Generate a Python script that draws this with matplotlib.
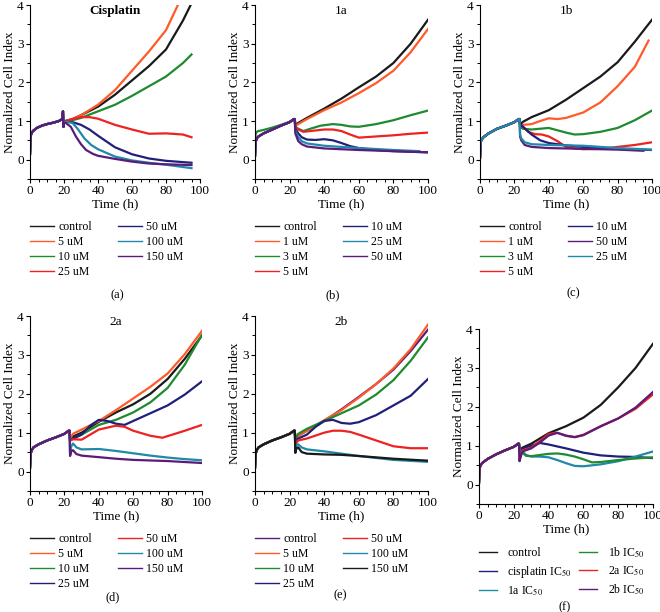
import matplotlib
matplotlib.use('Agg')
import matplotlib.pyplot as plt
from matplotlib.ticker import MultipleLocator

plt.rcParams['font.family'] = ['Liberation Serif', 'DejaVu Serif']
plt.rcParams['mathtext.fontset'] = 'stix'

W, H = 660, 612

BLACK  = '#1a1a1a'
ORANGE = '#ff5a28'
GREEN  = '#1f8a30'
RED    = '#ee2222'
NAVY   = '#20207a'
TEAL   = '#2088a8'
PURPLE = '#5a1c7a'

# ---- panel (a): cisplatin ----
pre_t_a = [0, 0.3, 1, 2, 4, 7, 10, 14, 17, 19, 19.4, 19.7, 20.0]
pre_v_a = [0.15, 0.6, 0.7, 0.75, 0.82, 0.88, 0.92, 0.96, 1.0, 1.05, 1.25, 0.85, 0.95]
a_ctrl_t  = [21, 25, 30, 40, 50, 60, 70, 80, 90, 94.5]
a_ctrl_v  = [1.0, 1.05, 1.15, 1.37, 1.68, 2.05, 2.42, 2.85, 3.6, 4.0]
a_5_t     = [21, 25, 30, 40, 50, 60, 70, 80, 87]
a_5_v     = [1.0, 1.05, 1.15, 1.42, 1.8, 2.3, 2.8, 3.35, 4.0]
a_10_t    = [21, 25, 30, 40, 50, 60, 70, 80, 90, 95]
a_10_v    = [1.0, 1.02, 1.08, 1.25, 1.42, 1.65, 1.9, 2.15, 2.5, 2.72]
a_25_t    = [21, 25, 30, 35, 40, 50, 60, 70, 80, 90, 95]
a_25_v    = [1.0, 1.05, 1.1, 1.1, 1.06, 0.9, 0.78, 0.67, 0.68, 0.65, 0.58]
a_50_t    = [21, 25, 30, 35, 40, 50, 60, 70, 80, 95]
a_50_v    = [0.98, 0.97, 0.9, 0.78, 0.62, 0.32, 0.14, 0.03, -0.03, -0.08]
a_100_t   = [21, 25, 28, 32, 36, 40, 50, 60, 70, 80, 95]
a_100_v   = [0.98, 0.95, 0.8, 0.55, 0.38, 0.27, 0.08, -0.02, -0.08, -0.13, -0.22]
a_150_t   = [21, 24, 27, 30, 33, 37, 40, 50, 60, 70, 80, 95]
a_150_v   = [0.95, 0.85, 0.6, 0.4, 0.25, 0.15, 0.1, 0.02, -0.05, -0.1, -0.12, -0.14]

# ---- panel (b): 1a ----
pre_t_b = [0, 0.3, 1, 2, 5, 10, 15, 20, 22.5, 23]
pre_v_b = [0.1, 0.45, 0.55, 0.6, 0.68, 0.78, 0.88, 0.97, 1.05, 1.05]
pre_v_b_3 = [0.1, 0.65, 0.72, 0.74, 0.77, 0.83, 0.9, 0.98, 1.05, 1.05]
b_ctrl_t = [23.3, 25, 30, 40, 50, 60, 70, 80, 90, 100]
b_ctrl_v = [0.9, 0.95, 1.08, 1.32, 1.58, 1.87, 2.15, 2.5, 3.0, 3.62]
b_1_t    = [23.3, 25, 30, 40, 50, 60, 70, 80, 90, 100]
b_1_v    = [0.88, 0.92, 1.05, 1.28, 1.48, 1.72, 1.98, 2.3, 2.78, 3.38]
b_3_t    = [23.3, 25, 28, 32, 38, 45, 50, 55, 60, 70, 80, 90, 100]
b_3_v    = [0.85, 0.8, 0.74, 0.8, 0.88, 0.92, 0.9, 0.86, 0.85, 0.92, 1.02, 1.15, 1.27]
b_5_t    = [23.3, 25, 28, 32, 40, 45, 50, 55, 60, 70, 80, 90, 100]
b_5_v    = [0.85, 0.78, 0.72, 0.74, 0.78, 0.78, 0.74, 0.65, 0.57, 0.6, 0.63, 0.67, 0.7]
b_10_t   = [23.3, 25, 27, 30, 35, 40, 45, 50, 55, 60, 70, 80, 100]
b_10_v   = [0.8, 0.68, 0.58, 0.52, 0.51, 0.53, 0.5, 0.43, 0.35, 0.3, 0.25, 0.22, 0.19]
b_25_t   = [23.3, 25, 27, 30, 40, 50, 60, 80, 95]
b_25_v   = [0.75, 0.58, 0.48, 0.42, 0.36, 0.33, 0.3, 0.25, 0.22]
b_50_t   = [23.3, 25, 27, 30, 40, 50, 60, 80, 100]
b_50_v   = [0.68, 0.48, 0.4, 0.34, 0.29, 0.27, 0.25, 0.22, 0.19]

# ---- panel (c): 1b ----
pre_t_c = [0, 0.3, 1, 2, 5, 10, 15, 20, 22.5, 23]
pre_v_c = [0.05, 0.45, 0.52, 0.58, 0.68, 0.8, 0.88, 0.97, 1.05, 1.05]
c_ctrl_t = [23.3, 25, 30, 40, 50, 60, 70, 80, 90, 100]
c_ctrl_v = [0.9, 0.98, 1.1, 1.28, 1.55, 1.85, 2.15, 2.52, 3.05, 3.62]
c_1_t    = [23.3, 25, 30, 35, 40, 45, 50, 60, 70, 80, 90, 98]
c_1_v    = [0.88, 0.9, 0.92, 1.0, 1.07, 1.05, 1.08, 1.22, 1.48, 1.9, 2.4, 3.08]
c_3_t    = [23.3, 25, 30, 35, 40, 45, 50, 55, 60, 70, 80, 90, 100]
c_3_v    = [0.85, 0.8, 0.78, 0.8, 0.82, 0.76, 0.7, 0.65, 0.66, 0.72, 0.82, 1.02, 1.27]
c_5_t    = [23.3, 25, 28, 32, 36, 40, 45, 50, 55, 60, 70, 80, 90, 100]
c_5_v    = [0.9, 0.85, 0.72, 0.66, 0.65, 0.6, 0.48, 0.33, 0.29, 0.27, 0.28, 0.33, 0.38, 0.45]
c_10_t   = [23.3, 25, 30, 35, 40, 50, 60, 80, 100]
c_10_v   = [0.92, 0.85, 0.65, 0.5, 0.43, 0.37, 0.33, 0.28, 0.25]
c_50_t   = [23.3, 24, 26, 30, 40, 60, 80, 95]
c_50_v   = [0.6, 0.5, 0.38, 0.33, 0.3, 0.28, 0.26, 0.23]
c_25_t   = [23.3, 24, 26, 30, 40, 60, 80, 100]
c_25_v   = [0.65, 0.55, 0.45, 0.4, 0.38, 0.36, 0.3, 0.26]

# ---- panel (d): 2a ----
pre_t_d = [0, 0.3, 1, 2, 5, 10, 15, 20, 22.5, 23]
pre_v_d = [0.1, 0.45, 0.55, 0.62, 0.7, 0.8, 0.88, 0.97, 1.05, 1.05]
d_ctrl_t = [23.3, 25, 30, 40, 50, 60, 70, 80, 90, 100]
d_ctrl_v = [0.82, 0.9, 1.0, 1.28, 1.52, 1.73, 2.0, 2.38, 2.9, 3.5]
d_5_t    = [23.3, 25, 30, 40, 50, 60, 70, 80, 90, 100]
d_5_v    = [0.85, 0.97, 1.08, 1.3, 1.58, 1.88, 2.18, 2.52, 3.02, 3.62]
d_10_t   = [23.3, 25, 30, 40, 50, 60, 70, 80, 90, 100]
d_10_v   = [0.8, 0.85, 0.95, 1.2, 1.33, 1.52, 1.78, 2.15, 2.75, 3.52]
d_25_t   = [23.3, 25, 30, 35, 40, 45, 50, 55, 60, 70, 80, 90, 100]
d_25_v   = [0.8, 0.85, 0.95, 1.18, 1.33, 1.3, 1.23, 1.2, 1.3, 1.5, 1.7, 1.98, 2.32]
d_50_t   = [23.3, 25, 30, 35, 40, 50, 55, 60, 70, 77, 85, 90, 100]
d_50_v   = [0.8, 0.83, 0.82, 0.95, 1.08, 1.18, 1.15, 1.05, 0.92, 0.87, 0.98, 1.05, 1.2]
d_100_t  = [23.3, 24, 25, 27, 30, 40, 50, 60, 70, 80, 90, 100]
d_100_v  = [0.45, 0.65, 0.72, 0.62, 0.57, 0.58, 0.53, 0.47, 0.41, 0.36, 0.32, 0.29]
d_150_t  = [23.3, 24, 25, 27, 30, 40, 50, 60, 80, 100]
d_150_v  = [0.4, 0.52, 0.55, 0.45, 0.41, 0.37, 0.33, 0.3, 0.27, 0.22]

# ---- panel (e): 2b ----
pre_t_e = [0, 0.3, 1, 2, 5, 10, 15, 20, 22.5, 23]
pre_v_e = [0.1, 0.45, 0.55, 0.62, 0.7, 0.8, 0.88, 0.97, 1.05, 1.05]
e_ctrl_t = [23.3, 25, 30, 40, 50, 60, 70, 80, 90, 100]
e_ctrl_v = [0.85, 0.92, 1.05, 1.3, 1.6, 1.92, 2.25, 2.62, 3.1, 3.65]
e_5_t    = [23.3, 25, 30, 40, 50, 60, 70, 80, 90, 100]
e_5_v    = [0.85, 0.92, 1.05, 1.32, 1.58, 1.9, 2.25, 2.65, 3.15, 3.78]
e_10_t   = [23.3, 25, 30, 40, 50, 60, 70, 80, 90, 100]
e_10_v   = [0.85, 0.97, 1.1, 1.3, 1.5, 1.7, 1.98, 2.35, 2.85, 3.45]
e_25_t   = [23.3, 25, 30, 35, 40, 45, 50, 55, 60, 70, 80, 90, 100]
e_25_v   = [0.8, 0.85, 0.95, 1.15, 1.3, 1.33, 1.25, 1.23, 1.27, 1.45, 1.7, 1.95, 2.38]
e_50_t   = [23.3, 25, 30, 40, 45, 50, 55, 60, 70, 80, 90, 100]
e_50_v   = [0.7, 0.8, 0.85, 1.0, 1.05, 1.05, 1.02, 0.95, 0.8, 0.65, 0.6, 0.6]
e_100_t  = [23.3, 24, 25, 27, 30, 40, 50, 60, 70, 80, 100]
e_100_v  = [0.55, 0.68, 0.7, 0.62, 0.57, 0.52, 0.46, 0.4, 0.35, 0.3, 0.25]
e_150_t  = [23.3, 24, 25, 27, 30, 40, 50, 60, 80, 100]
e_150_v  = [0.48, 0.6, 0.62, 0.5, 0.46, 0.44, 0.43, 0.4, 0.33, 0.28]

# ---- panel (f): IC50 comparison ----
pre_t_f = [0, 0.3, 1, 2, 5, 10, 15, 20, 22.5, 23]
pre_v_f = [0.05, 0.42, 0.5, 0.56, 0.66, 0.78, 0.88, 0.97, 1.05, 1.05]
f_ctrl_t = [23.3, 25, 30, 40, 50, 60, 70, 80, 90, 100]
f_ctrl_v = [0.88, 0.95, 1.05, 1.32, 1.5, 1.72, 2.05, 2.5, 3.0, 3.62]
f_cis_t  = [23.3, 25, 30, 35, 40, 50, 60, 70, 80, 90, 100]
f_cis_v  = [0.88, 0.92, 1.0, 1.07, 1.03, 0.93, 0.82, 0.75, 0.72, 0.71, 0.68]
f_1a_t   = [23.3, 25, 27, 30, 35, 40, 45, 50, 55, 60, 70, 80, 90, 100]
f_1a_v   = [0.88, 0.85, 0.76, 0.72, 0.72, 0.7, 0.63, 0.55, 0.48, 0.47, 0.52, 0.6, 0.72, 0.85]
f_1b_t   = [23.3, 25, 27, 30, 35, 40, 45, 50, 55, 60, 65, 70, 80, 90, 100]
f_1b_v   = [0.85, 0.82, 0.74, 0.73, 0.76, 0.79, 0.8, 0.77, 0.72, 0.65, 0.57, 0.58, 0.63, 0.67, 0.7]
f_2a_t   = [23.3, 24, 25, 30, 35, 40, 45, 50, 55, 60, 70, 80, 90, 100]
f_2a_v   = [0.62, 0.75, 0.88, 0.95, 1.12, 1.3, 1.33, 1.25, 1.22, 1.28, 1.5, 1.7, 1.95, 2.32]
f_2b_t   = [23.3, 24, 25, 30, 35, 40, 45, 50, 55, 60, 70, 80, 90, 100]
f_2b_v   = [0.6, 0.72, 0.85, 0.93, 1.08, 1.26, 1.33, 1.26, 1.22, 1.27, 1.5, 1.7, 1.98, 2.38]


def px_rect(x0, x1, ytop, ybot):
    return [x0 / W, 1 - ybot / H, (x1 - x0) / W, (ybot - ytop) / H]


def draw_panel(fig, rect, pre_t, pre_v, series, title, bold, leg_xy, leg_kw, caption_xy, caption):
    ax = fig.add_axes(rect)
    for label, color, t, v, pre in series:
        pv = pre_v if pre is None else pre
        ax.plot(list(pre_t) + list(t), list(pv) + list(v), color=color, lw=1.6, label=label)
    ax.set_xlim(0, 100)
    ax.set_ylim(-0.5, 4)
    ax.xaxis.set_major_locator(MultipleLocator(20))
    ax.xaxis.set_minor_locator(MultipleLocator(5))
    ax.yaxis.set_major_locator(MultipleLocator(1))
    ax.yaxis.set_minor_locator(MultipleLocator(0.5))
    ax.tick_params(which='major', direction='out', length=3, width=0.8, labelsize=9.5, pad=1.5)
    ax.tick_params(which='minor', direction='out', length=2, width=0.7)
    for s in ['top', 'right']:
        ax.spines[s].set_visible(False)
    for s in ['left', 'bottom']:
        ax.spines[s].set_linewidth(0.8)
    ax.set_xlabel('Time (h)', fontsize=9.5, labelpad=1)
    ax.set_ylabel('Normalized Cell Index', fontsize=9.5, labelpad=1)
    ax.text(50, 3.84, title, ha='center', va='center', fontsize=9.5,
            fontweight='bold' if bold else 'normal')
    kw = dict(handlelength=2.0, handletextpad=0.4, columnspacing=2.2, labelspacing=0.25)
    kw.update(leg_kw)
    leg = ax.legend(loc='upper left', bbox_to_anchor=(leg_xy[0] / W, 1 - leg_xy[1] / H),
                    bbox_transform=fig.transFigure, ncol=2, frameon=False, fontsize=8.5,
                    borderpad=0, borderaxespad=0, **kw)
    for ln in leg.get_lines():
        ln.set_linewidth(1.0)
    fig.text(caption_xy[0] / W, 1 - caption_xy[1] / H, caption, ha='center', va='center', fontsize=9)
    return ax


fig = plt.figure(figsize=(W / 100, H / 100), dpi=100)

draw_panel(fig, px_rect(30, 200, 5, 179), pre_t_a, pre_v_a, [
    ('control', BLACK, a_ctrl_t, a_ctrl_v, None),
    ('5 uM', ORANGE, a_5_t, a_5_v, None),
    ('10 uM', GREEN, a_10_t, a_10_v, None),
    ('25 uM', RED, a_25_t, a_25_v, None),
    ('50 uM', NAVY, a_50_t, a_50_v, None),
    ('100 uM', TEAL, a_100_t, a_100_v, None),
    ('150 uM', PURPLE, a_150_t, a_150_v, None),
], 'Cisplatin', True, (30, 221), {}, (117, 295), '(a)')

draw_panel(fig, px_rect(255, 428, 5, 179), pre_t_b, pre_v_b, [
    ('control', BLACK, b_ctrl_t, b_ctrl_v, None),
    ('1 uM', ORANGE, b_1_t, b_1_v, None),
    ('3 uM', GREEN, b_3_t, b_3_v, pre_v_b_3),
    ('5 uM', RED, b_5_t, b_5_v, None),
    ('10 uM', NAVY, b_10_t, b_10_v, None),
    ('25 uM', TEAL, b_25_t, b_25_v, None),
    ('50 uM', PURPLE, b_50_t, b_50_v, None),
], '1a', False, (255, 221), {}, (333, 295), '(b)')

draw_panel(fig, px_rect(480, 652, 5, 179), pre_t_c, pre_v_c, [
    ('control', BLACK, c_ctrl_t, c_ctrl_v, None),
    ('1 uM', ORANGE, c_1_t, c_1_v, None),
    ('3 uM', GREEN, c_3_t, c_3_v, None),
    ('5 uM', RED, c_5_t, c_5_v, None),
    ('10 uM', NAVY, c_10_t, c_10_v, None),
    ('50 uM', PURPLE, c_50_t, c_50_v, None),
    ('25 uM', TEAL, c_25_t, c_25_v, None),
], '1b', False, (480, 221), {}, (573, 293), '(c)')

draw_panel(fig, px_rect(30, 202, 316, 491), pre_t_d, pre_v_d, [
    ('control', BLACK, d_ctrl_t, d_ctrl_v, None),
    ('5 uM', ORANGE, d_5_t, d_5_v, None),
    ('10 uM', GREEN, d_10_t, d_10_v, None),
    ('25 uM', NAVY, d_25_t, d_25_v, None),
    ('50 uM', RED, d_50_t, d_50_v, None),
    ('100 uM', TEAL, d_100_t, d_100_v, None),
    ('150 uM', PURPLE, d_150_t, d_150_v, None),
], '2a', False, (30, 533), {}, (113, 597), '(d)')

draw_panel(fig, px_rect(255, 428, 316, 491), pre_t_e, pre_v_e, [
    ('control', PURPLE, e_ctrl_t, e_ctrl_v, None),
    ('5 uM', ORANGE, e_5_t, e_5_v, None),
    ('10 uM', GREEN, e_10_t, e_10_v, None),
    ('25 uM', NAVY, e_25_t, e_25_v, None),
    ('50 uM', RED, e_50_t, e_50_v, None),
    ('100 uM', TEAL, e_100_t, e_100_v, None),
    ('150 uM', BLACK, e_150_t, e_150_v, None),
], '2b', False, (255, 533), {}, (340, 595), '(e)')

draw_panel(fig, px_rect(479, 653, 329, 504), pre_t_f, pre_v_f, [
    ('control', BLACK, f_ctrl_t, f_ctrl_v, None),
    ('cisplatin IC$_{50}$', NAVY, f_cis_t, f_cis_v, None),
    ('1a IC$_{50}$', TEAL, f_1a_t, f_1a_v, None),
    ('1b IC$_{50}$', GREEN, f_1b_t, f_1b_v, None),
    ('2a IC$_{50}$', RED, f_2a_t, f_2a_v, None),
    ('2b IC$_{50}$', PURPLE, f_2b_t, f_2b_v, None),
], '', False, (479, 545),
    dict(handlelength=1.5, handletextpad=0.9, columnspacing=0.6, labelspacing=0.4),
    (565, 607), '(f)')

fig.savefig('out.png', dpi=100)
